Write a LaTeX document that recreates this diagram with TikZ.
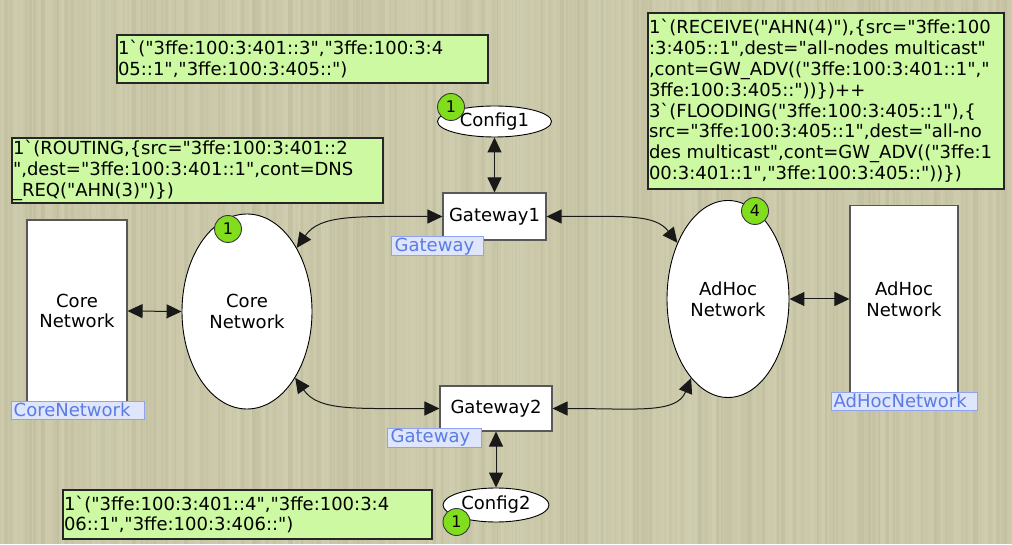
\documentclass[tikz,border=0pt]{standalone}
\usepackage{fontspec}
\newfontfamily\dv{DejaVu Sans}[Ligatures=TeXOff]
\usetikzlibrary{arrows.meta,shapes.geometric}
\definecolor{canvasbg}{HTML}{CAC8A8}
\definecolor{streaklight}{HTML}{D9D8BF}
\definecolor{streakdark}{HTML}{B6B394}
\definecolor{inscfill}{HTML}{CCF9A2}
\definecolor{tokfill}{HTML}{80DE1E}
\definecolor{tagfill}{HTML}{DFE5FA}
\definecolor{tagline}{HTML}{8FA3EE}
\definecolor{tagtext}{HTML}{5A7CE4}
\definecolor{edge}{HTML}{3A3A3A}
\tikzset{
  place/.style={ellipse, draw=black, line width=0.9pt, fill=white, inner sep=0pt,
    align=center, font=\dv\fontsize{18}{20.7}\selectfont},
  trans/.style={rectangle, draw=edge!85, line width=1.1pt, fill=white, inner sep=0pt,
    align=center, font=\dv\fontsize{18}{20.7}\selectfont},
  token/.style={circle, draw=edge, line width=0.9pt, fill=tokfill, minimum size=27pt,
    inner sep=0pt, font=\dv\fontsize{16}{16}\selectfont},
  inscbox/.style={rectangle, draw=black!85, line width=1.4pt, fill=inscfill, inner sep=0pt},
  insctext/.style={anchor=west, align=left, inner sep=0pt,
    font=\dv\fontsize{18}{20.8}\selectfont},
  tagbox/.style={rectangle, draw=tagline, line width=1pt, fill=tagfill, inner sep=0pt},
  tagtext/.style={anchor=west, inner sep=0pt, text=tagtext,
    font=\dv\fontsize{18}{18}\selectfont},
  link/.style={draw=black!90, line width=1pt,
    {Triangle[length=15pt,width=14pt]}-{Triangle[length=15pt,width=14pt]}},
}
\begin{document}
\begin{tikzpicture}[x=1pt,y=1pt]
\path[use as bounding box, fill=canvasbg] (0,0) rectangle (1012,544);

% woven background streaks
\pgfmathsetseed{7}
\begin{scope}
\clip (0,0) rectangle (1012,544);
\foreach \i in {0,...,252}{
  \pgfmathsetmacro{\xx}{4*\i+2*rnd}
  \pgfmathsetmacro{\ww}{1.5+3*rnd}
  \pgfmathsetmacro{\op}{0.1+0.25*rnd}
  \pgfmathtruncatemacro{\tone}{rnd<0.5 ? 1 : 0}
  \ifnum\tone=1
    \fill[streaklight, opacity=\op] (\xx,0) rectangle ++(\ww,544);
  \else
    \fill[streakdark, opacity=\op] (\xx,0) rectangle ++(\ww,544);
  \fi
}
\end{scope}

% places
\node[place, minimum width=130pt, minimum height=195pt] (core) at (247,232.5) {Core\\Network};
\node[place, minimum width=122pt, minimum height=197pt] (adhoc) at (728,245) {AdHoc\\Network};
\node[place, minimum width=114pt, minimum height=31pt] (cfg1) at (494.5,422.5) {Config1};
\node[place, minimum width=106pt, minimum height=34pt] (cfg2) at (496,39) {Config2};

% substitution transitions
\node[trans, minimum width=100pt, minimum height=182pt] (cnet) at (77,233) {Core\\Network};
\node[trans, minimum width=108pt, minimum height=187pt] (anet) at (904,245) {AdHoc\\Network};
\node[trans, minimum width=103pt, minimum height=47pt] (gw1) at (494.5,327.5) {Gateway1};
\node[trans, minimum width=112pt, minimum height=45pt] (gw2) at (496,135.5) {Gateway2};

% subpage tags
\node[tagbox, minimum width=133pt, minimum height=18pt] (cnettag) at (77.5,134) {};
\node[tagtext] (cnettagt) at ([xshift=3pt]cnettag.west) {CoreNetwork};
\node[tagbox, minimum width=146pt, minimum height=18pt] (anettag) at (904,143) {};
\node[tagtext] (anettagt) at ([xshift=3pt]anettag.west) {AdHocNetwork};
\node[tagbox, minimum width=92pt, minimum height=19pt] (gw1tag) at (437,297.5) {};
\node[tagtext] (gw1tagt) at ([xshift=4pt]gw1tag.west) {Gateway};
\node[tagbox, minimum width=94pt, minimum height=19pt] (gw2tag) at (434,106.5) {};
\node[tagtext] (gw2tagt) at ([xshift=4pt]gw2tag.west) {Gateway};

% arcs
\draw[link] (cnet.east) -- (core.west);
\draw[link] (adhoc.east) -- (anet.west);
\draw[link] (cfg1) -- (gw1);
\draw[link] (gw2) -- (cfg2);
\draw[link] (gw1.west) to[out=180,in=55,out looseness=1.5,in looseness=0.7] (core.52);
\draw[link] (gw2.west) to[out=180,in=-55,out looseness=1.5,in looseness=0.7] (core.-54);
\draw[link] (gw1.east) to[out=0,in=128,out looseness=1.5,in looseness=0.7] (adhoc.132);
\draw[link] (gw2.east) to[out=0,in=-112,out looseness=1.5,in looseness=0.7] (adhoc.-115);

% markings
\node[token] (coretok) at (228,315) {1};
\node[token] (adhoctok) at (755,333) {4};
\node[token] (cfg1tok) at (451,437) {1};
\node[token] (cfg2tok) at (456.5,22) {1};

% inscriptions
\node[inscbox, minimum width=371pt, minimum height=48pt] (insA) at (302.5,485) {};
\node[insctext] (insAt) at ([xshift=1.5pt]insA.west)
  {1`("3ffe:100:3:401::3","3ffe:100:3:4\\05::1","3ffe:100:3:405::")};

\node[inscbox, minimum width=356pt, minimum height=176pt] (insB) at (826,443) {};
\node[insctext] (insBt) at ([xshift=1.5pt]insB.west)
  {1`(RECEIVE("AHN(4)"),\{src="3ffe:100\\
   :3:405::1",dest="all-nodes multicast"\\
   ,cont=GW\_ADV(("3ffe:100:3:401::1","\\
   3ffe:100:3:405::"))\})++\\
   3`(FLOODING("3ffe:100:3:405::1"),\{\\
   src="3ffe:100:3:405::1",dest="all-no\\
   des multicast",cont=GW\_ADV(("3ffe:1\\
   00:3:401::1","3ffe:100:3:405::"))\})};

\node[inscbox, minimum width=371pt, minimum height=65pt] (insC) at (197.5,373.5) {};
\node[insctext] (insCt) at ([xshift=1.5pt]insC.west)
  {1`(ROUTING,\{src="3ffe:100:3:401::2\\
   ",dest="3ffe:100:3:401::1",cont=DNS\\
   \_REQ("AHN(3)")\})};

\node[inscbox, minimum width=369pt, minimum height=49pt] (insD) at (247.5,29.5) {};
\node[insctext] (insDt) at ([xshift=1.5pt]insD.west)
  {1`("3ffe:100:3:401::4","3ffe:100:3:4\\06::1","3ffe:100:3:406::")};
\end{tikzpicture}
\end{document}
